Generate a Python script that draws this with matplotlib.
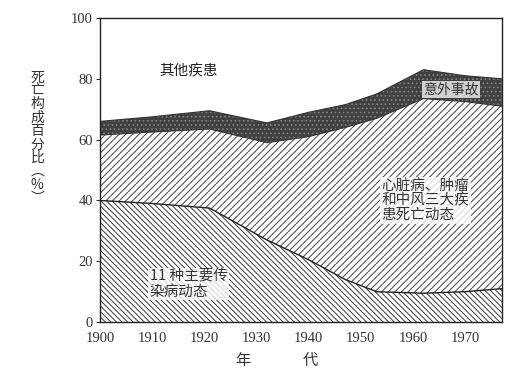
import numpy as np
import matplotlib
matplotlib.use("Agg")
import matplotlib.pyplot as plt

plt.rcParams['font.family'] = ['Noto Sans CJK SC', 'DejaVu Sans']
plt.rcParams['hatch.linewidth'] = 0.7

# 数据（从图上读取的各类死亡构成百分比）
years = [1900, 1910, 1921, 1932, 1940, 1947, 1953, 1962, 1970, 1977]
infect = [40, 39, 37.5, 27, 20.5, 14, 10, 9.5, 10, 11]          # 11种主要传染病
cardio = [21.5, 23.5, 26, 32, 40.5, 50, 57, 64, 62.5, 60]       # 心脏病、肿瘤和中风
accident = [4.5, 5, 6, 6.5, 8, 7.5, 8, 9.5, 8.5, 9]             # 意外事故
x_ticks = [1900, 1910, 1920, 1930, 1940, 1950, 1960, 1970]
y_ticks = [0, 20, 40, 60, 80, 100]

x = np.array(years)
b1 = np.array(infect)
b2 = b1 + np.array(cardio)
b3 = b2 + np.array(accident)

fig = plt.figure(figsize=(5.26, 3.83), dpi=100)
ax = fig.add_axes([0.190, 0.159, 0.764, 0.794])

# 传染病
ax.fill_between(x, 0, b1, facecolor='white', edgecolor='#3a3a3a',
                hatch='\\\\\\\\\\\\', linewidth=0)
# 三大疾患
ax.fill_between(x, b1, b2, facecolor='white', edgecolor='#444444',
                hatch='/////', linewidth=0)
# 意外事故
ax.fill_between(x, b2, b3, facecolor='#404040', edgecolor='#858585',
                hatch='....', linewidth=0)
ax.plot(x, b1, color='#222222', lw=1.0)
ax.plot(x, b2, color='#333333', lw=0.8)
ax.plot(x, b3, color='#333333', lw=0.8)

ax.set_xlim(1900, 1977)
ax.set_ylim(0, 100)
ax.set_xticks(x_ticks)
ax.set_yticks(y_ticks)
ax.tick_params(axis='both', direction='out', length=3, width=0.8,
               labelsize=10.5, colors='#333333')
for lab in ax.get_xticklabels() + ax.get_yticklabels():
    lab.set_fontfamily(['Liberation Serif', 'DejaVu Serif'])
ax.tick_params(axis='x', length=0, pad=7)
ax.tick_params(axis='y', pad=2)
for s in ax.spines.values():
    s.set_linewidth(1.0)
    s.set_color('#222222')

# 区域文字
ax.text(1917, 82.5, '其他疾患', fontsize=10.5, color='#222222', ha='center', va='center')
ax.text(1967.2, 76.5, '意外事故', fontsize=10, color='#333333', ha='center', va='center',
        bbox=dict(boxstyle='square,pad=0.1', facecolor='#d0d0d0', edgecolor='none'))
ax.text(1954, 40, '心脏病、肿瘤\n和中风三大疾\n患死亡动态', fontsize=10.5, color='#333333',
        ha='left', va='center', linespacing=1.05,
        bbox=dict(boxstyle='square,pad=0.1', facecolor='white', edgecolor='none', alpha=0.8))
ax.text(1909.5, 12.5, '11 种主要传\n染病动态', fontsize=10.5, color='#333333',
        ha='left', va='center', linespacing=1.05,
        bbox=dict(boxstyle='square,pad=0.1', facecolor='white', edgecolor='none', alpha=0.8))

# 纵轴标题（竖排）
fig.text(0.071, 0.64, '\n'.join('死亡构成百分比') + '\n︵\n%\n︶', fontsize=10,
         color='#333333', ha='center', va='center', linespacing=0.95)
# 横轴标题
fig.text(0.462, 0.06, '年', fontsize=11, color='#333333', ha='center', va='center')
fig.text(0.59, 0.06, '代', fontsize=11, color='#333333', ha='center', va='center')

fig.savefig('out.png', dpi=100)
